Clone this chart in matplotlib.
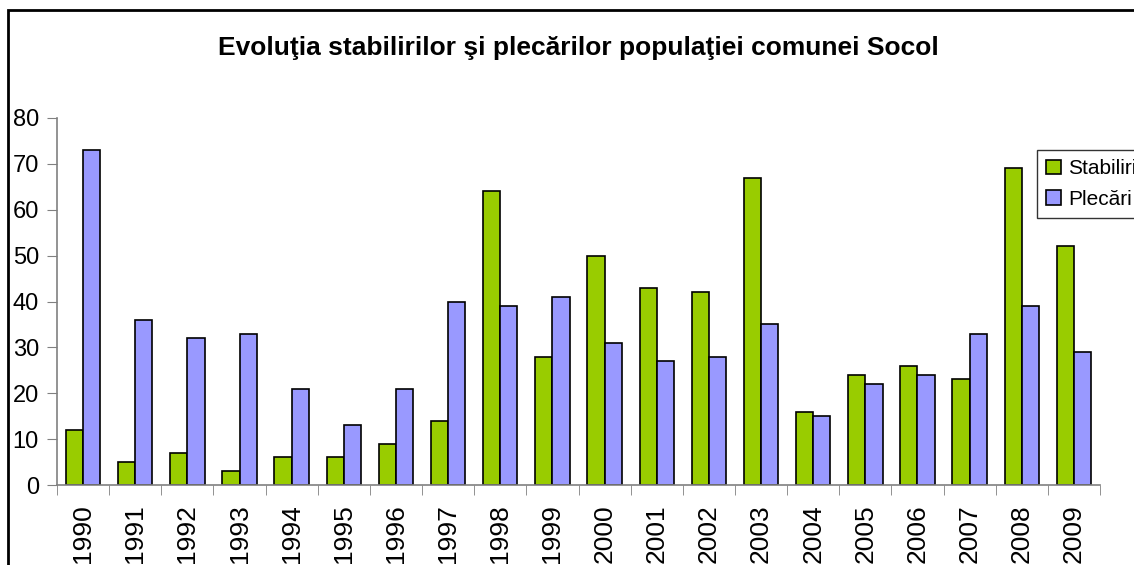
import matplotlib.pyplot as plt
import matplotlib.patches as mpatches
import numpy as np

plt.rcParams['font.family'] = ['Liberation Sans', 'DejaVu Sans']

years = [str(y) for y in range(1990, 2010)]
stabiliri = [12, 5, 7, 3, 6, 6, 9, 14, 64, 28, 50, 43, 42, 67, 16, 24, 26, 23, 69, 52]
plecari = [73, 36, 32, 33, 21, 13, 21, 40, 39, 41, 31, 27, 28, 35, 15, 22, 24, 33, 39, 29]

fig = plt.figure(figsize=(11.34, 5.65), dpi=100)
ax = fig.add_axes([57 / 1134, 1 - 485 / 565, (1100 - 57) / 1134, (485 - 118) / 565])

x = np.arange(len(years))
w = 0.33
ax.bar(x - w / 2, stabiliri, w, color="#99CC00", edgecolor="black", linewidth=1.2,
       label="Stabiliri")
ax.bar(x + w / 2, plecari, w, color="#9999FF", edgecolor="black", linewidth=1.2,
       label="Plecări")

ax.set_xlim(-0.5, len(years) - 0.5)
ax.set_ylim(0, 80)
ax.set_yticks(range(0, 81, 10))
ax.tick_params(axis="y", labelsize=17, length=7, color="#808080", pad=6)

ax.set_xticks(x)
ax.set_xticklabels(years, rotation=90, fontsize=19)
ax.tick_params(axis="x", length=0, pad=14)
ax.set_xticks(np.arange(-0.5, len(years)), minor=True)
ax.tick_params(axis="x", which="minor", length=7, color="#808080")

for s in ["top", "right"]:
    ax.spines[s].set_visible(False)
for s in ["left", "bottom"]:
    ax.spines[s].set_color("#808080")
    ax.spines[s].set_linewidth(1.2)

fig.text(578 / 1134, 1 - 48 / 565,
         "Evoluţia stabililor şi plecărilor populaţiei comunei Socol".replace("stabililor", "stabilirilor"),
         ha="center", va="center", fontsize=19, fontweight="bold")

leg = fig.legend(loc="upper left", bbox_to_anchor=(1037 / 1134, 1 - 150 / 565),
                 fontsize=15, frameon=True, fancybox=False, edgecolor="black",
                 handlelength=0.7, handleheight=0.7, handletextpad=0.35,
                 borderpad=0.45, labelspacing=0.55, borderaxespad=0)
leg.get_frame().set_linewidth(1.0)

# outer chart frame
fig.patches.append(mpatches.Rectangle((8 / 1134, -0.1), 1.2, 1 - 10 / 565 + 0.1,
                                      transform=fig.transFigure, fill=False,
                                      edgecolor="black", linewidth=2))

plt.savefig("out.png", dpi=100)
plt.close()
